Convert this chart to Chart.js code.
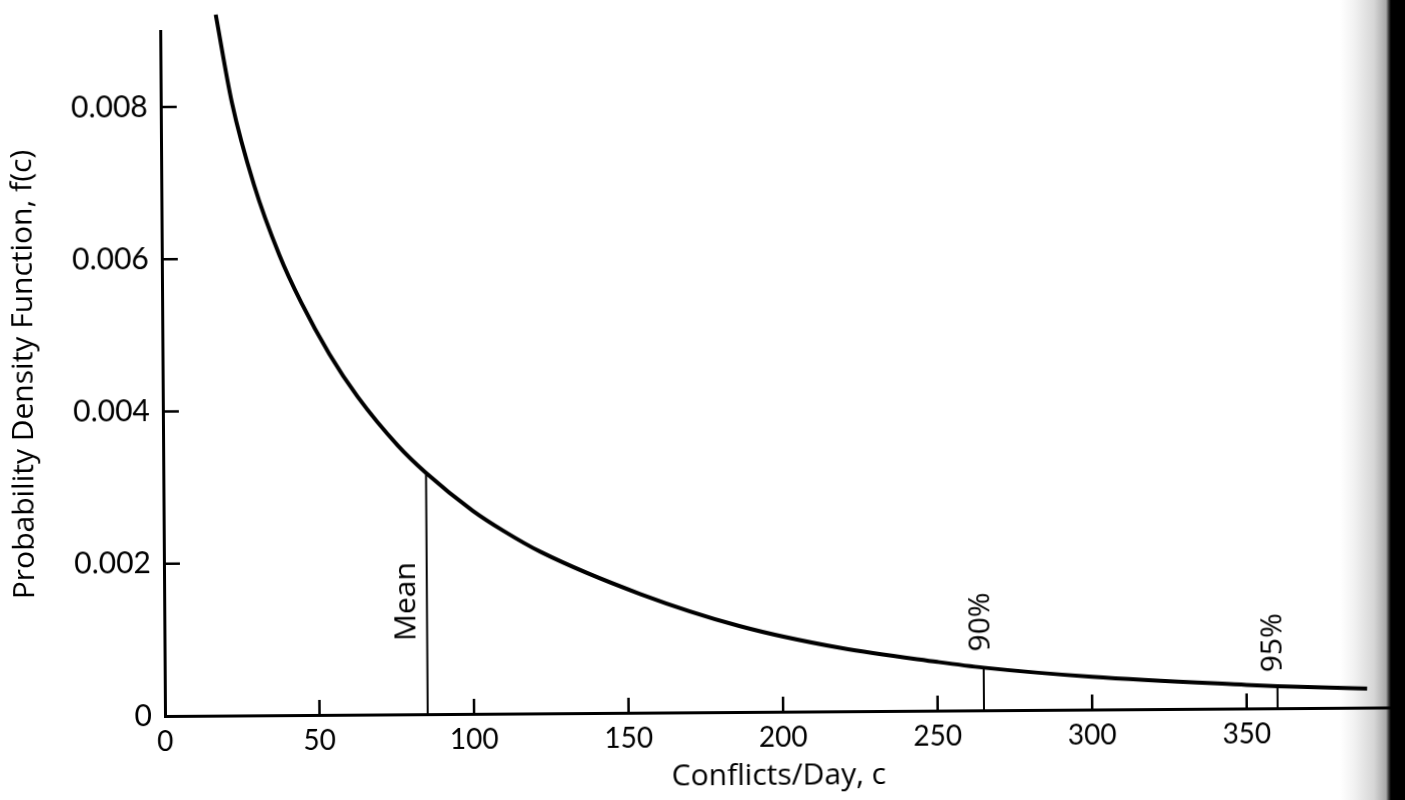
<!DOCTYPE html>
<html>
<head>
<meta charset="utf-8">
<script src="https://cdn.jsdelivr.net/npm/chart.js@4"></script>
<style>
  body { margin: 0; background: #fff; }
  #wrap { position: relative; width: 1405px; height: 800px; overflow: hidden; }
  #edge {
    position: absolute; left: 1340px; top: 0; width: 65px; height: 800px;
    background: linear-gradient(to right, rgba(255,255,255,0) 0px, #f2f2f2 14px, #d6d6d6 34px, #a8a8a8 46px, #333 49px, #000 51px, #000 65px);
  }
  #pdf {
    position: absolute; left: 0; top: 0;
    transform: rotate(-0.4deg); transform-origin: 165px 716px;
  }
</style>
</head>
<body>
<div id="wrap">
  <div id="edge"></div>
  <canvas id="pdf" width="1405" height="800"></canvas>
</div>
<script>
// f(c)
const conflicts = [18, 23, 30, 38, 45, 54, 63, 76, 85, 100, 110, 122, 154, 186, 219, 250, 265, 300, 350, 360, 389];
const density = [0.00921, 0.00806, 0.00697, 0.00605, 0.00542, 0.00474, 0.00418, 0.00353, 0.00317, 0.00267, 0.0024, 0.00212, 0.00156, 0.00113, 0.00083, 0.00064, 0.00056, 0.00043, 0.00031, 0.00029, 0.00025];

// mean and percentile markers
const markerLabels = ['Mean', '90%', '95%'];
const markerC = [85, 265, 360];
const markerF = [0.00317, 0.00056, 0.00029];

const xTicks = [0, 50, 100, 150, 200, 250, 300, 350];
const yTicks = [0, 0.002, 0.004, 0.006, 0.008];

const TICK_FONT = 'Lato, "Open Sans", sans-serif';
const TEXT_FONT = '"Open Sans", Lato, sans-serif';
Chart.defaults.font.family = TICK_FONT;
Chart.defaults.color = '#000';

const curve = conflicts.map((c, i) => ({ x: c, y: density[i] }));
const markerSets = markerC.map((c, i) => ({
    data: [{ x: c, y: 0 }, { x: c, y: markerF[i] }],
    borderColor: '#000',
    borderWidth: 2,
    pointRadius: 0,
    clip: false
}));

// where each marker label sits: [pixel shift from the line, f value of text centre]
const labelPlace = [[-20, 0.00148], [-3, 0.00116], [-4, 0.00086]];

const inwardTicks = {
    id: 'inwardTicks',
    afterDatasetsDraw(chart) {
        const { ctx, scales: { x, y } } = chart;
        ctx.save();
        ctx.strokeStyle = '#000';
        ctx.lineWidth = 2.5;
        ctx.beginPath();
        x.ticks.forEach(t => {
            if (t.value === 0) return;
            const px = x.getPixelForValue(t.value);
            ctx.moveTo(px, y.bottom);
            ctx.lineTo(px, y.bottom - 15);
        });
        y.ticks.forEach(t => {
            if (t.value === 0) return;
            const py = y.getPixelForValue(t.value);
            ctx.moveTo(x.left, py);
            ctx.lineTo(x.left + 16, py);
        });
        ctx.stroke();

        ctx.fillStyle = '#000';
        ctx.font = '30px ' + TEXT_FONT;
        ctx.textAlign = 'center';
        ctx.textBaseline = 'middle';
        markerLabels.forEach((txt, i) => {
            const px = x.getPixelForValue(markerC[i]) + labelPlace[i][0];
            const py = y.getPixelForValue(labelPlace[i][1]);
            ctx.save();
            ctx.translate(px, py);
            ctx.rotate(-Math.PI / 2);
            ctx.fillText(txt, 0, 0);
            ctx.restore();
        });
        ctx.restore();
    }
};

new Chart(document.getElementById('pdf'), {
    type: 'line',
    data: {
        datasets: [{
            data: curve,
            borderColor: '#000',
            borderWidth: 4,
            pointRadius: 0,
            cubicInterpolationMode: 'monotone',
            clip: false
        }, ...markerSets]
    },
    options: {
        responsive: false,
        animation: false,
        layout: { padding: { top: 24, right: 13, left: 0, bottom: 0 } },
        plugins: { legend: { display: false }, tooltip: { enabled: false } },
        scales: {
            x: {
                type: 'linear',
                min: 0,
                max: 397,
                afterBuildTicks: s => { s.ticks = xTicks.map(v => ({ value: v })); },
                afterFit: s => { s.height = 84; },
                grid: { display: false, drawTicks: false },
                border: { display: true, color: '#000', width: 3 },
                ticks: { padding: 9, font: { size: 28 }, maxRotation: 0 },
                title: {
                    display: true, text: 'Conflicts/Day, c',
                    font: { size: 30, family: TEXT_FONT },
                    padding: { top: 0, bottom: 2 }
                }
            },
            y: {
                min: 0,
                max: 0.009,
                afterBuildTicks: s => { s.ticks = yTicks.map(v => ({ value: v })); },
                afterFit: s => { s.width = 165; },
                grid: { display: false, drawTicks: false },
                border: { display: true, color: '#000', width: 3 },
                ticks: {
                    padding: 13,
                    font: { size: 30 },
                    callback: v => v === 0 ? '0' : v.toFixed(3)
                },
                title: {
                    display: true, text: 'Probability Density Function, f(c)',
                    font: { size: 30, family: TEXT_FONT },
                    padding: { top: 8, bottom: 0 }
                }
            }
        }
    },
    plugins: [inwardTicks]
});
</script>
</body>
</html>
